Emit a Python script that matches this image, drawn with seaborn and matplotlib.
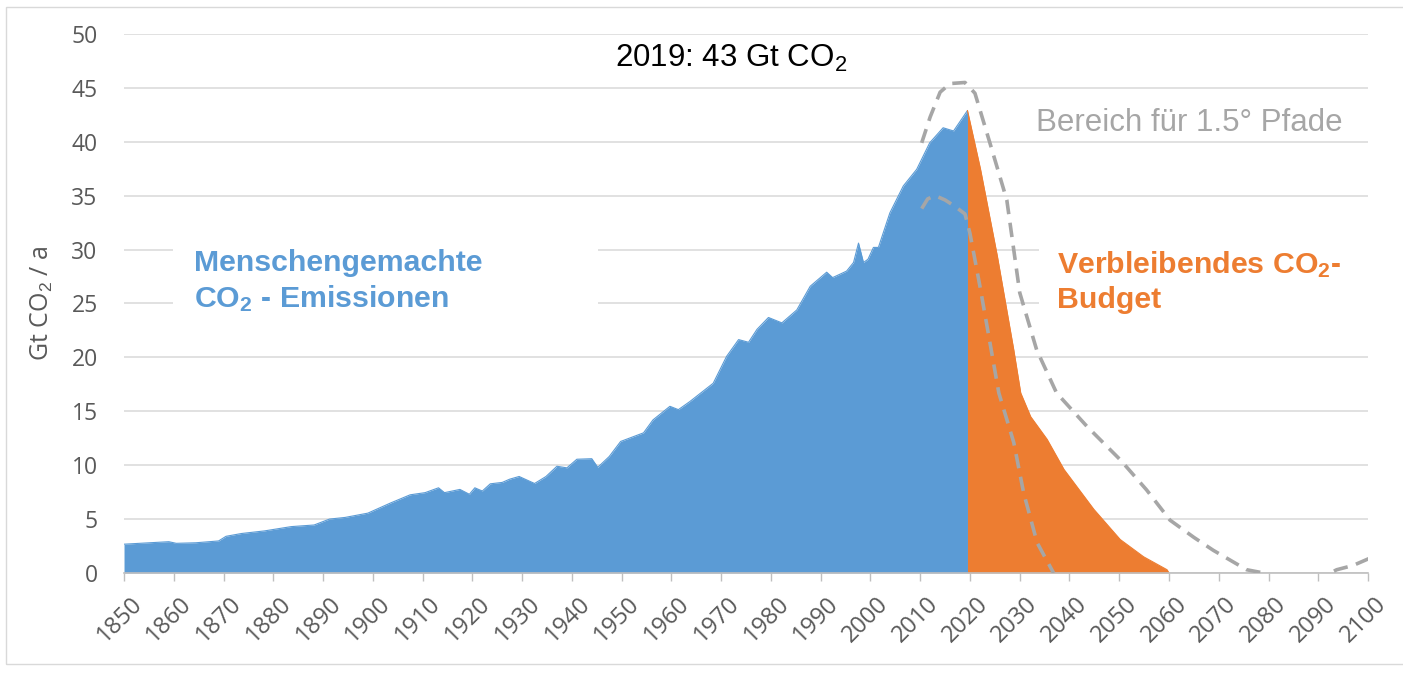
import pandas as pd
import seaborn as sns
import matplotlib.transforms as mtransforms
from matplotlib import pyplot as plt
from matplotlib.patches import Rectangle

# historical emissions, Gt CO2 per year
hist_years = [1850, 1859, 1860.5, 1864.4, 1869, 1870.5, 1873.6, 1878.2, 1883.6, 1888.2,
              1891.3, 1894.4, 1899, 1903.6, 1907.5, 1910.5, 1913.2, 1914.4, 1917.5, 1919.4,
              1920.5, 1922, 1923.6, 1926, 1927.5, 1929.4, 1932.5, 1934.8, 1937, 1939,
              1941, 1944, 1945.2, 1947.5, 1949.8, 1954.4, 1956.3, 1959.7, 1961.4, 1963.7,
              1968.4, 1971.1, 1973.5, 1975.5, 1977.2, 1979.5, 1982.2, 1985.2, 1987.9, 1991.2,
              1992.4, 1995.2, 1996.6, 1997.6, 1998.6, 1999.5, 2000.6, 2001.6, 2003.9, 2006.6,
              2009.3, 2011.9, 2014.6, 2016.7, 2019.5]
hist_values = [2.67, 2.9, 2.75, 2.8, 2.97, 3.4, 3.66, 3.9, 4.3, 4.45,
               5.0, 5.15, 5.55, 6.5, 7.25, 7.45, 7.9, 7.45, 7.75, 7.3,
               7.9, 7.6, 8.27, 8.4, 8.7, 8.95, 8.3, 8.95, 9.9, 9.75,
               10.55, 10.6, 9.8, 10.8, 12.2, 13.0, 14.2, 15.46, 15.15, 15.9,
               17.6, 20.1, 21.65, 21.4, 22.6, 23.7, 23.2, 24.4, 26.6, 27.9,
               27.4, 28.0, 28.8, 30.6, 28.8, 29.1, 30.2, 30.2, 33.4, 35.9,
               37.45, 39.9, 41.3, 41.0, 42.9]

# remaining budget
budget_years = [2019.5, 2022.1, 2025.5, 2028.8, 2030.2, 2032.2, 2035.5, 2038.9, 2044.9,
                2050.2, 2054.9, 2059.6, 2060]
budget_values = [42.9, 37.5, 29.4, 20.7, 16.7, 14.5, 12.4, 9.6, 5.9, 3.1, 1.5, 0.3, 0.0]

# range of 1.5 degree pathways
upper_years = [2010.3, 2012, 2014, 2016, 2019, 2021, 2024, 2027.4, 2030, 2033.4, 2037.4,
               2043.5, 2050.2, 2055.5, 2060.2, 2065, 2068.9, 2075.6, 2079, 2083, 2089,
               2093.7, 2097, 2101]
upper_values = [39.9, 42.3, 44.6, 45.4, 45.5, 44.5, 39.9, 34.6, 26.0, 20.7, 16.7,
                13.6, 10.5, 7.7, 4.9, 3.3, 2.1, 0.3, 0.0, -0.8, -0.8,
                0.3, 0.7, 1.5]
lower_years = [2010.3, 2011.5, 2013, 2015, 2017, 2019, 2020, 2022, 2024, 2025.8, 2028.8,
               2030.8, 2033.5, 2036.8]
lower_values = [33.8, 34.7, 35.0, 34.6, 34.0, 33.3, 31.5, 26.6, 21.4, 16.7, 12.1,
                7.4, 2.8, 0.0]

BLUE = '#5B9BD5'
ORANGE = '#ED7D31'
DASH = '#A6A6A6'
GRID = '#D9D9D9'
TICK = '#595959'

sns.set_style("white")
plt.rcParams['font.family'] = ['Liberation Sans', 'DejaVu Sans']
plt.rcParams['mathtext.fontset'] = 'custom'
plt.rcParams['mathtext.rm'] = 'Liberation Sans'
plt.rcParams['mathtext.bf'] = 'Liberation Sans:bold'
plt.rcParams['mathtext.it'] = 'Liberation Sans:italic'

fig = plt.figure(figsize=(14.03, 6.74), dpi=100)
ax = fig.add_axes([0.0884, 0.1499, 0.8867, 0.7997])

hist = pd.DataFrame({'year': hist_years, 'value': hist_values})
budget = pd.DataFrame({'year': budget_years, 'value': budget_values})
upper = pd.DataFrame({'year': upper_years, 'value': upper_values})
lower = pd.DataFrame({'year': lower_years, 'value': lower_values})

ax.fill_between(hist['year'], hist['value'], color=BLUE, lw=0, zorder=2)
sns.lineplot(data=hist, x='year', y='value', color=BLUE, lw=0.8, ax=ax, zorder=2)
ax.fill_between(budget['year'], budget['value'], color=ORANGE, lw=0, zorder=2)
sns.lineplot(data=budget, x='year', y='value', color=ORANGE, lw=0.8, ax=ax, zorder=2)

for df in (upper, lower):
    sns.lineplot(data=df, x='year', y='value', color=DASH, lw=2.6, ax=ax, zorder=3)
    ax.lines[-1].set_dashes((4, 2.4))

ax.set_xlim(1850, 2100)
ax.set_ylim(0, 50)
ax.set_xticks(range(1850, 2101, 10))
ax.set_yticks(range(0, 51, 5))

ax.set_axisbelow(True)
ax.yaxis.grid(True, color=GRID, lw=1.1)
ax.xaxis.grid(False)
for side in ('left', 'top', 'right'):
    ax.spines[side].set_visible(False)
ax.spines['bottom'].set_color('#BFBFBF')
ax.spines['bottom'].set_linewidth(1.2)

ax.tick_params(axis='x', bottom=True, length=5.8, width=1, color='#BFBFBF',
               labelcolor=TICK, labelsize=17, pad=8)
ax.tick_params(axis='y', left=False, length=0, labelcolor=TICK, labelsize=16.5, pad=19)
for lab in ax.get_yticklabels():
    lab.set_fontfamily('Open Sans')
offset = mtransforms.ScaledTranslation(6 / 100, 0, fig.dpi_scale_trans)
for lab in ax.get_xticklabels():
    lab.set_fontfamily('Open Sans')
    lab.set_rotation(45)
    lab.set_ha('right')
    lab.set_va('top')
    lab.set_rotation_mode('anchor')
    lab.set_transform(lab.get_transform() + offset)

ax.set_xlabel('')
ax.set_ylabel('Gt CO$_2$ / a', fontsize=18, color=TICK, family='Open Sans', labelpad=12)

# white boxes behind the labels cut the grid lines
ax.add_patch(Rectangle((1859.8, 22.1), 85.5, 9.9, facecolor='white', edgecolor='none', zorder=1))
ax.add_patch(Rectangle((2033.9, 22.8), 70, 8.7, facecolor='white', edgecolor='none',
                       zorder=1, clip_on=False))

ax.text(1972, 46.9, '2019: 43 Gt CO$_2$', ha='center', va='baseline', fontsize=22.5,
        color='black', zorder=4)
ax.text(2033.3, 41.0, 'Bereich für 1.5° Pfade', ha='left', va='baseline', fontsize=22.5,
        color=DASH, zorder=4)
ax.text(1864.1, 28.0, 'Menschengemachte', ha='left', va='baseline', fontsize=21.8,
        fontweight='bold', color=BLUE, zorder=4)
ax.text(1864.1, 24.7, r'CO$_\mathbf{2}$ - Emissionen', ha='left', va='baseline', fontsize=21.8,
        fontweight='bold', color=BLUE, zorder=4)
ax.text(2037.4, 27.8, r'Verbleibendes CO$_\mathbf{2}$-', ha='left', va='baseline',
        fontsize=21.8, fontweight='bold', color=ORANGE, zorder=4)
ax.text(2037.4, 24.6, 'Budget', ha='left', va='baseline', fontsize=21.8,
        fontweight='bold', color=ORANGE, zorder=4)

fig.patches.append(Rectangle((6 / 1403, 1 - 664 / 674), 1.01, (664 - 7) / 674,
                             transform=fig.transFigure, fill=False, edgecolor=GRID, lw=1))

fig.savefig('out.png', dpi=100)
